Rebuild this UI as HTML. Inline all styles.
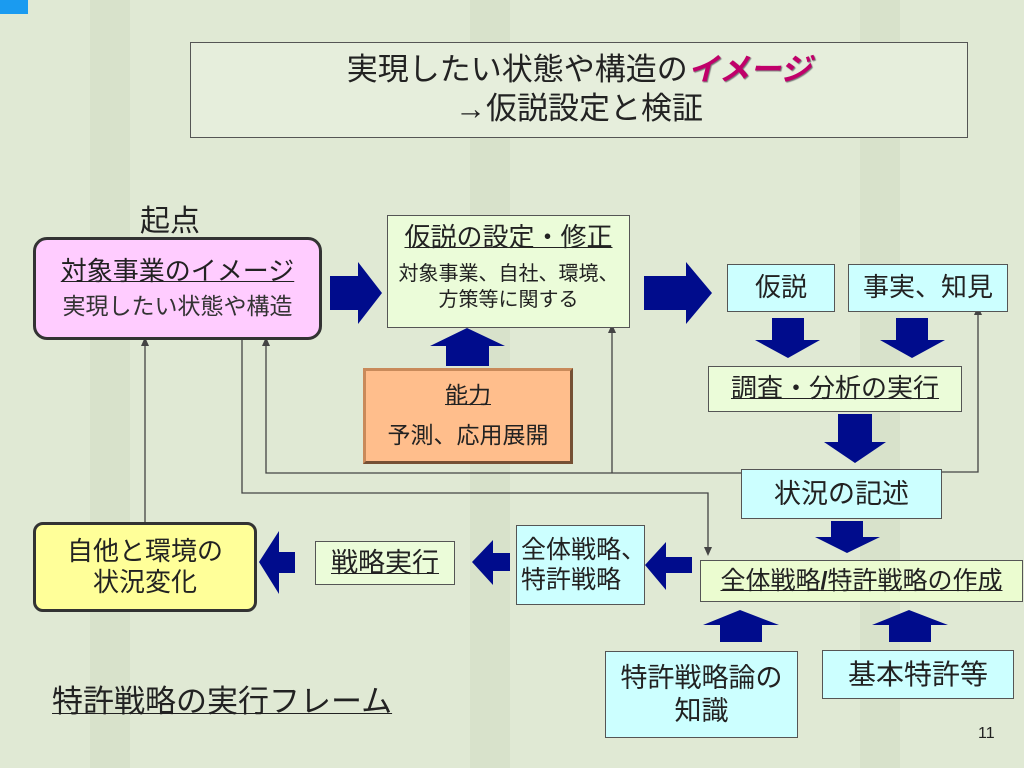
<!DOCTYPE html>
<html><head><meta charset="utf-8"><style>
body{margin:0}
#s{position:relative;width:1024px;height:768px;overflow:hidden;background:#e0e9d4;font-family:"Liberation Sans","Noto Sans CJK JP",sans-serif;color:#222}
.b{position:absolute;box-sizing:border-box;display:flex;flex-direction:column;align-items:center;justify-content:center;text-align:center;border:1.5px solid #555;line-height:1.2;white-space:nowrap}
.cy{background:#ccffff}
.t{position:absolute;white-space:nowrap}
u{text-decoration:underline;text-decoration-thickness:1px}
svg{position:absolute;left:0;top:0}
</style></head><body><div id="s">
<div style="position:absolute;left:0;top:0;width:28px;height:14px;background:#1a9bf0"></div>
<svg width="1024" height="768">
<g fill="#cfdcc2" opacity="0.5">
<rect x="90" y="0" width="40" height="768"/><rect x="470" y="0" width="40" height="768"/><rect x="860" y="0" width="40" height="768"/>
</g>
<g stroke="#444" stroke-width="1.3" fill="none">
<path d="M145 522V345"/><path d="M242 340V493H708V550"/>
<path d="M741 473H266V345"/><path d="M612 473V332"/><path d="M942 472H978V314"/>
</g>
<g fill="#444">
<path d="M141 346L145 337L149 346Z"/><path d="M262 346L266 337L270 346Z"/><path d="M608 333L612 324L616 333Z"/><path d="M974 315L978 306L982 315Z"/><path d="M704 547L708 556L712 547Z"/>
</g>
<g fill="#000c8c">
<path d="M330 276H358V262L382 293L358 324V310H330Z"/>
<path d="M644 276H686V262L712 293L686 324V310H644Z"/>
<path d="M446 366V346H430L467 328L505 346H489V366Z"/>
<path d="M772 318H804V340H820L788 358L755 340H772Z"/>
<path d="M896 318H928V340H945L912 358L880 340H896Z"/>
<path d="M838 414H872V442H886L855 463L824 442H838Z"/>
<path d="M831 521H863V537H880L847 553L815 537H831Z"/>
<path d="M720 642V625H703L740 610L779 625H762V642Z"/>
<path d="M889 642V625H872L909 610L948 625H931V642Z"/>
<path d="M692 557H666V542L645 565L666 590V573H692Z"/>
<path d="M510 553H493V540L472 562L493 585V571H510Z"/>
<path d="M295 552H279V531L259 562L279 594V573H295Z"/>
</g>
</svg>
<div class="b" style="left:190px;top:42px;width:778px;height:96px;background:#e6eedc;font-size:31px;line-height:1.25">
<div>実現したい状態や構造の<b style="color:#c0006a;font-style:italic;text-shadow:1px 1px 1px #777">イメージ</b></div><div>→仮説設定と検証</div></div>
<div class="t" style="left:140px;top:196px;font-size:30px">起点</div>
<div class="b" style="left:33px;top:237px;width:289px;height:103px;background:#ffccff;border:3px solid #333;border-radius:14px;font-size:26px">
<div><u>対象事業のイメージ</u></div><div style="margin-top:6px;font-size:23px;color:#333">実現したい状態や構造</div></div>
<div class="b" style="left:387px;top:215px;width:243px;height:113px;background:#ebfcd9;justify-content:flex-start;padding-top:6px">
<div style="font-size:26px"><u>仮説の設定・修正</u></div><div style="font-size:20px;margin-top:8px;line-height:1.3">対象事業、自社、環境、<br>方策等に関する</div></div>
<div class="b" style="left:363px;top:368px;width:210px;height:96px;background:#ffbe8c;border:3px outset #c98a5a;font-size:23px">
<div><u>能力</u></div><div style="margin-top:12px">予測、応用展開</div></div>
<div class="b cy" style="left:727px;top:264px;width:108px;height:48px;font-size:26px">仮説</div>
<div class="b cy" style="left:848px;top:264px;width:160px;height:48px;font-size:26px">事実、知見</div>
<div class="b" style="left:708px;top:366px;width:254px;height:46px;background:#ebfcd9;font-size:26px"><u>調査・分析の実行</u></div>
<div class="b cy" style="left:741px;top:469px;width:201px;height:50px;font-size:27px">状況の記述</div>
<div class="b" style="left:700px;top:560px;width:323px;height:42px;background:#ebfcd0;font-size:25px"><u>全体戦略<b>/</b>特許戦略の作成</u></div>
<div class="b cy" style="left:605px;top:651px;width:193px;height:87px;font-size:27px">特許戦略論の<br>知識</div>
<div class="b cy" style="left:822px;top:650px;width:192px;height:49px;font-size:28px">基本特許等</div>
<div class="b cy" style="left:516px;top:525px;width:129px;height:80px;font-size:25px;align-items:flex-start;padding-left:4px;text-align:left">全体戦略、<br>特許戦略</div>
<div class="b" style="left:315px;top:541px;width:140px;height:44px;background:#ebfcd9;font-size:27px"><u>戦略実行</u></div>
<div class="b" style="left:33px;top:522px;width:224px;height:90px;background:#ffff99;border:3px solid #333;border-radius:10px;font-size:26px">自他と環境の<br>状況変化</div>
<div class="t" style="left:52px;top:676px;font-size:31px"><u>特許戦略の実行フレーム</u></div>
<div class="t" style="left:978px;top:725px;font-size:16px">11</div>
</div></body></html>
